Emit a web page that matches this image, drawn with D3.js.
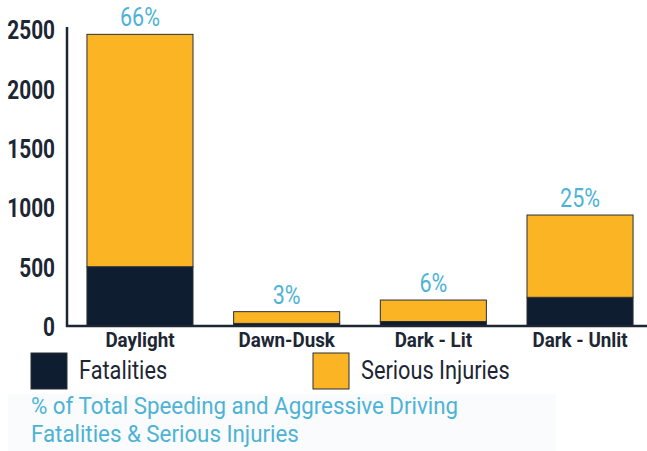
<!DOCTYPE html>
<html>
<head>
<meta charset="utf-8">
<script src="https://cdn.jsdelivr.net/npm/d3@7"></script>
<style>
  body { margin: 0; background: #fff; }
  svg { display: block; }
  text { font-family: Roboto, "Open Sans", sans-serif; }
</style>
</head>
<body>
<svg width="647" height="451"></svg>
<script>
var categories = ["Daylight", "Dawn-Dusk", "Dark - Lit", "Dark - Unlit"];
var fatalities = [500, 22, 38, 242];
var seriousInjuries = [1960, 99, 181, 694];
var pctLabels = ["66%", "3%", "6%", "25%"];
var yTicks = [0, 500, 1000, 1500, 2000, 2500];
var seriesNames = ["Fatalities", "Serious Injuries"];
var titleLines = ["% of Total Speeding and Aggressive Driving", "Fatalities & Serious Injuries"];

var colors = { "Fatalities": "#0e1d30", "Serious Injuries": "#fab424" };
var ink = "#1d2633";
var blue = "#4db3d6";

var data = categories.map((c, i) => ({
  cat: c,
  "Fatalities": fatalities[i],
  "Serious Injuries": seriousInjuries[i],
  pct: pctLabels[i]
}));

var svg = d3.select("svg");

var xScale = d3.scaleBand()
  .domain(categories)
  .range([67, 653])
  .paddingInner(0.277)
  .paddingOuter(0.136);

var yScale = d3.scaleLinear()
  .domain([0, 2522])
  .range([326, 27]);

var stack = d3.stack().keys(seriesNames);
var layers = stack(data);

// very light panel behind the caption
svg.append("rect")
  .attr("x", 8).attr("y", 394)
  .attr("width", 548).attr("height", 57)
  .attr("fill", "#fafbfc");

// bars
var g = svg.append("g");
g.selectAll(".layer")
  .data(layers)
  .enter().append("g")
    .attr("class", "layer")
    .attr("fill", d => colors[d.key])
  .selectAll("rect")
  .data(d => d)
  .enter().append("rect")
    .attr("x", d => xScale(d.data.cat))
    .attr("y", d => yScale(d[1]))
    .attr("width", xScale.bandwidth())
    .attr("height", d => yScale(d[0]) - yScale(d[1]))
    .attr("stroke", "#2b2f36")
    .attr("stroke-width", 1);

// percentage labels
g.selectAll(".pct")
  .data(data)
  .enter().append("text")
    .attr("class", "pct")
    .attr("transform", d => `translate(${xScale(d.cat) + xScale.bandwidth() / 2},${yScale(d["Fatalities"] + d["Serious Injuries"]) - 8}) scale(0.86,1)`)
    .attr("text-anchor", "middle")
    .attr("fill", blue)
    .style("font-size", "25px")
    .text(d => d.pct);

// y-axis
var yAxis = svg.append("g")
  .attr("transform", "translate(67,0)")
  .call(d3.axisLeft(yScale).tickValues(yTicks).tickFormat(d3.format("d")).tickSize(0).tickPadding(0));
yAxis.select(".domain").attr("stroke", ink).attr("stroke-width", 2.5)
  .attr("d", `M0,${yScale.range()[1]}V${yScale.range()[0] + 1}`);
yAxis.selectAll("text")
  .attr("x", null).attr("dy", "0.36em")
  .attr("transform", "translate(-12,0) scale(0.8,1)")
  .attr("fill", ink)
  .style("font-size", "26px").style("font-weight", "700");

// x-axis
var xAxis = svg.append("g")
  .attr("transform", `translate(0,${yScale(0)})`)
  .call(d3.axisBottom(xScale).tickSize(0).tickPadding(0));
xAxis.select(".domain").attr("stroke", ink).attr("stroke-width", 2.5)
  .attr("d", "M66,0H647");
xAxis.selectAll("text")
  .attr("y", null).attr("dy", null)
  .attr("transform", "translate(0,21) scale(0.94,1)")
  .attr("fill", ink)
  .style("font-size", "20px").style("font-weight", "700");

// legend
var legendX = [31, 313];
var legend = svg.selectAll(".legend")
  .data(seriesNames)
  .enter().append("g")
    .attr("class", "legend")
    .attr("transform", (d, i) => `translate(${legendX[i]},353)`);
legend.append("rect")
  .attr("width", 36).attr("height", 36)
  .attr("fill", d => colors[d])
  .attr("stroke", "#2b2f36").attr("stroke-width", 1);
legend.append("text")
  .attr("transform", "translate(48,26) scale(0.87,1)")
  .attr("fill", ink)
  .style("font-size", "25px")
  .text(d => d);

// caption
svg.selectAll(".caption")
  .data(titleLines)
  .enter().append("text")
    .attr("class", "caption")
    .attr("transform", (d, i) => `translate(31,${414 + i * 28}) scale(0.93,1)`)
    .attr("fill", blue)
    .style("font-size", "24px")
    .text(d => d);
</script>
</body>
</html>
